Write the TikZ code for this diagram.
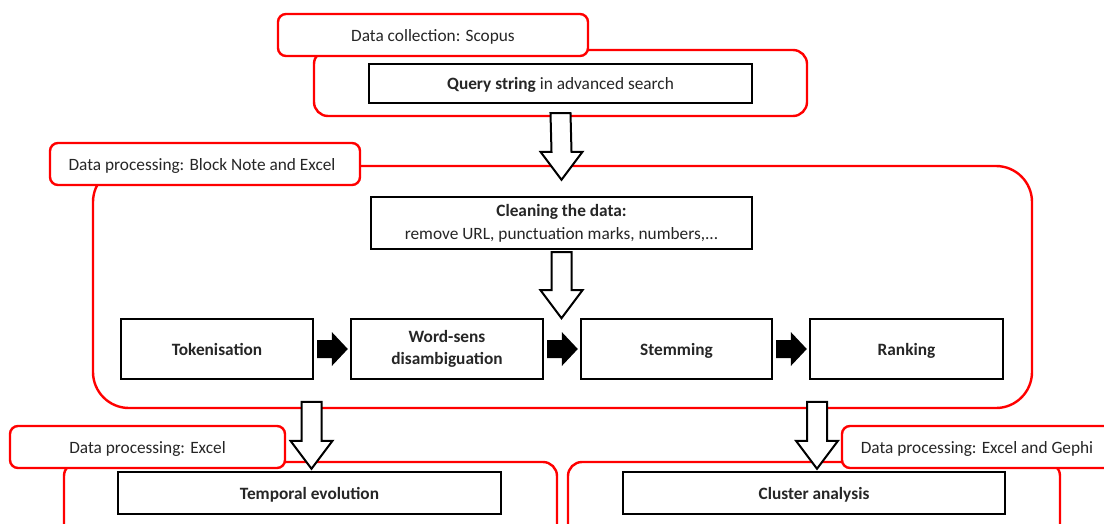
\documentclass[tikz,border=0pt]{standalone}
\usepackage{fontspec}
\setmainfont{Carlito}
\usetikzlibrary{calc}
\begin{document}
\begin{tikzpicture}[x=1pt,y=-1pt,
  every node/.style={font=\fontsize{17.3}{22}\selectfont, text=black!85},
  frame/.style={draw=red, line width=2.4pt, rounded corners=#1, fill=white, inner sep=0pt},
  frame/.default=14pt,
  tag/.style={draw=red, line width=2.4pt, rounded corners=8pt, fill=white, inner sep=0pt},
  blackbox/.style={draw=black, line width=2.4pt, fill=white, inner sep=0pt, align=center},
  boldtext/.style={font=\fontsize{17.3}{22}\selectfont\bfseries},
  oneline/.style={text height=14pt, text depth=2pt},
  hollow/.style={draw=black, line width=2pt, fill=white, line join=miter},
  solidarrow/.style={fill=black, draw=none}
]
\useasboundingbox (0,0) rectangle (1104,523);
\clip (0,0) rectangle (1104,523);

% ---- data collection ----
\node[frame, minimum width=493, minimum height=66] (colframe) at (560.5,83) {};
\node[tag, oneline, minimum width=310, minimum height=42] (coltag) at (433,35) {Data collection: Scopus};
\node[blackbox, oneline, minimum width=383, minimum height=39] (query) at (560.5,83.5) {\textbf{Query string} in advanced search};

% ---- processing ----
\node[frame=36pt, minimum width=939, minimum height=242] (procframe) at (562.5,287) {};
\node[tag, oneline, minimum width=310, minimum height=42] (proctag) at (205,164) {\hspace*{-6pt}Data processing: Block Note and Excel};
\node[blackbox, minimum width=381, minimum height=52, font=\fontsize{17.3}{23}\selectfont] (clean) at (561.5,223) {\textbf{Cleaning the data:}\\remove URL, punctuation marks, numbers,...};

\node[blackbox, boldtext, oneline, minimum width=192, minimum height=60] (tok) at (217,349) {Tokenisation};
\node[blackbox, boldtext, minimum width=192, minimum height=60] (wsd) at (447,349) {Word-sens\\disambiguation};
\node[blackbox, boldtext, oneline, minimum width=191, minimum height=60] (stem) at (676.5,349) {Stemming};
\node[blackbox, boldtext, oneline, minimum width=193, minimum height=60] (rank) at (906.5,349) {Ranking};

% ---- bottom ----
\node[frame, minimum width=493, minimum height=90] (tempframe) at (310.5,507) {};
\node[frame, minimum width=492, minimum height=90] (clusframe) at (814,507) {};
\node[tag, oneline, minimum width=275, minimum height=42] (temptag) at (147.5,447) {Data processing: Excel};
\node[tag, oneline, minimum width=290, minimum height=42] (clustag) at (987,447) {\hspace*{-20pt}Data processing: Excel and Gephi};
\node[blackbox, boldtext, oneline, minimum width=383, minimum height=42] (temp) at (309.5,493) {Temporal evolution};
\node[blackbox, boldtext, oneline, minimum width=382, minimum height=42] (clus) at (814,493) {Cluster analysis};

% ---- hollow down arrows ----
\newcommand\hollowdown[2]{%
  \draw[hollow] ($(#1)+(-10,0)$) -- ($(#2)+(-10,-28)$) -- ($(#2)+(-21,-28)$) -- (#2)
     -- ($(#2)+(21,-28)$) -- ($(#2)+(10,-28)$) -- ($(#1)+(10,0)$) -- cycle;}
\coordinate (a1s) at ($(query.south)+(0,9)$);
\coordinate (a1e) at ($(clean.north)+(0,-16)$);
\hollowdown{a1s}{a1e}
\coordinate (a2s) at ($(clean.south)+(0,2)$);
\coordinate (a2e) at ($(clean.south)+(0,68)$);
\hollowdown{a2s}{a2e}
\coordinate (a3s) at ($(temp.north)+(2,-69)$);
\coordinate (a3e) at ($(temp.north)+(2,-2)$);
\hollowdown{a3s}{a3e}
\coordinate (a4s) at ($(clus.north)+(3,-69)$);
\coordinate (a4e) at ($(clus.north)+(3,-2)$);
\hollowdown{a4s}{a4e}

% ---- solid right arrows ----
\newcommand\solidright[2]{%
  \fill[solidarrow] ($(#1.east)+(3,-9)$) -- ($(#2.west)+(-18,-9)$) -- ($(#2.west)+(-18,-17)$)
     -- ($(#2.west)+(-2,0)$) -- ($(#2.west)+(-18,17)$) -- ($(#2.west)+(-18,9)$)
     -- ($(#1.east)+(3,9)$) -- cycle;}
\solidright{tok}{wsd}
\solidright{wsd}{stem}
\solidright{stem}{rank}
\end{tikzpicture}
\end{document}
